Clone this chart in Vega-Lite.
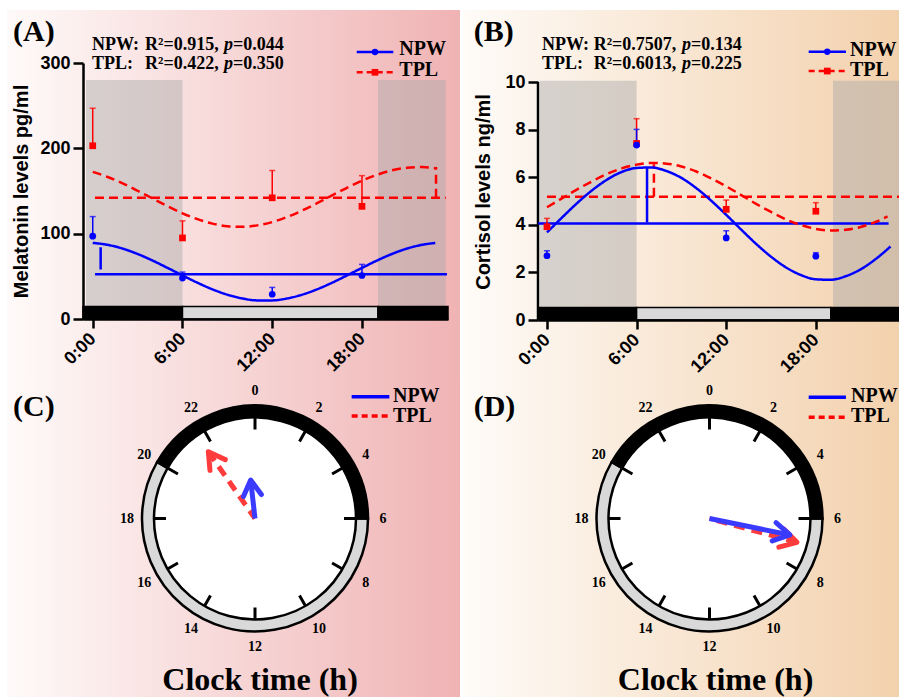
{
"$schema": "https://vega.github.io/schema/vega-lite/v6.json",
"background": "white",
"padding": {"left": 7, "top": 10, "right": 0, "bottom": 0},
"spacing": 1,
"config": {
  "view": {"stroke": null},
  "axis": {"grid": false, "domainColor": "black", "domainWidth": 2.5, "tickColor": "black", "tickWidth": 2.5, "tickSize": 10,
           "labelFont": "Liberation Sans", "labelFontWeight": "bold", "labelFontSize": 18, "labelColor": "black",
           "titleFont": "Liberation Sans", "titleFontWeight": "bold", "titleFontSize": 20, "titleColor": "black"}
},
"datasets": {
  "mel": [
    {"s":"TPL","h":0,"m":203,"u":247},{"s":"TPL","h":6,"m":95,"u":115},{"s":"TPL","h":12,"m":142,"u":174},{"s":"TPL","h":18,"m":132,"u":168},
    {"s":"NPW","h":0,"m":97,"u":120},{"s":"NPW","h":6,"m":48,"u":55},{"s":"NPW","h":12,"m":29,"u":37},{"s":"NPW","h":18,"m":51,"u":64}],
  "cor": [
    {"s":"TPL","h":0,"m":3.92,"u":4.27},{"s":"TPL","h":6,"m":7.42,"u":8.46},{"s":"TPL","h":12,"m":4.65,"u":5.04},{"s":"TPL","h":18,"m":4.57,"u":4.93},
    {"s":"NPW","h":0,"m":2.7,"u":2.91},{"s":"NPW","h":6,"m":7.35,"u":8.01},{"s":"NPW","h":12,"m":3.45,"u":3.75},{"s":"NPW","h":18,"m":2.68,"u":2.83}],
  "mfit": [
    {"s":"TPL","h":0,"v":172.4},{"s":"TPL","h":1,"v":166.4},{"s":"TPL","h":2,"v":158.9},{"s":"TPL","h":3,"v":150.3},{"s":"TPL","h":4,"v":141.2},{"s":"TPL","h":5,"v":132.2},
    {"s":"TPL","h":6,"v":123.9},{"s":"TPL","h":7,"v":117.0},{"s":"TPL","h":8,"v":111.8},{"s":"TPL","h":9,"v":108.8},{"s":"TPL","h":10,"v":108.0},{"s":"TPL","h":11,"v":109.7},
    {"s":"TPL","h":12,"v":113.6},{"s":"TPL","h":13,"v":119.6},{"s":"TPL","h":14,"v":127.1},{"s":"TPL","h":15,"v":135.7},{"s":"TPL","h":16,"v":144.8},{"s":"TPL","h":17,"v":153.8},
    {"s":"TPL","h":18,"v":162.1},{"s":"TPL","h":19,"v":169.0},{"s":"TPL","h":20,"v":174.2},{"s":"TPL","h":21,"v":177.2},{"s":"TPL","h":22,"v":178.0},{"s":"TPL","h":22.9,"v":176.6},
    {"s":"NPW","h":0,"v":89.2},{"s":"NPW","h":1,"v":86.9},{"s":"NPW","h":2,"v":82.5},{"s":"NPW","h":3,"v":76.2},{"s":"NPW","h":4,"v":68.5},{"s":"NPW","h":5,"v":59.9},
    {"s":"NPW","h":6,"v":51.1},{"s":"NPW","h":7,"v":42.5},{"s":"NPW","h":8,"v":34.8},{"s":"NPW","h":9,"v":28.5},{"s":"NPW","h":10,"v":24.1},{"s":"NPW","h":11,"v":21.8},
    {"s":"NPW","h":12,"v":21.8},{"s":"NPW","h":13,"v":24.1},{"s":"NPW","h":14,"v":28.5},{"s":"NPW","h":15,"v":34.8},{"s":"NPW","h":16,"v":42.5},{"s":"NPW","h":17,"v":51.1},
    {"s":"NPW","h":18,"v":59.9},{"s":"NPW","h":19,"v":68.5},{"s":"NPW","h":20,"v":76.2},{"s":"NPW","h":21,"v":82.5},{"s":"NPW","h":22,"v":86.9},{"s":"NPW","h":22.9,"v":89.1}],
  "cfit": [
    {"s":"TPL","h":0,"v":4.74},{"s":"TPL","h":1,"v":5.11},{"s":"TPL","h":2,"v":5.48},{"s":"TPL","h":3,"v":5.82},{"s":"TPL","h":4,"v":6.13},{"s":"TPL","h":5,"v":6.37},
    {"s":"TPL","h":6,"v":6.53},{"s":"TPL","h":7,"v":6.6},{"s":"TPL","h":8,"v":6.57},{"s":"TPL","h":9,"v":6.45},{"s":"TPL","h":10,"v":6.24},{"s":"TPL","h":11,"v":5.95},
    {"s":"TPL","h":12,"v":5.62},{"s":"TPL","h":13,"v":5.25},{"s":"TPL","h":14,"v":4.88},{"s":"TPL","h":15,"v":4.54},{"s":"TPL","h":16,"v":4.23},{"s":"TPL","h":17,"v":3.99},
    {"s":"TPL","h":18,"v":3.83},{"s":"TPL","h":19,"v":3.76},{"s":"TPL","h":20,"v":3.79},{"s":"TPL","h":21,"v":3.91},{"s":"TPL","h":22,"v":4.12},{"s":"TPL","h":22.8,"v":4.35},
    {"s":"NPW","h":0,"v":3.68},{"s":"NPW","h":1,"v":4.3},{"s":"NPW","h":2,"v":4.9},{"s":"NPW","h":3,"v":5.44},{"s":"NPW","h":4,"v":5.89},{"s":"NPW","h":5,"v":6.22},
    {"s":"NPW","h":6,"v":6.39},{"s":"NPW","h":7,"v":6.41},{"s":"NPW","h":8,"v":6.26},{"s":"NPW","h":9,"v":5.97},{"s":"NPW","h":10,"v":5.54},{"s":"NPW","h":11,"v":5.01},
    {"s":"NPW","h":12,"v":4.42},{"s":"NPW","h":13,"v":3.8},{"s":"NPW","h":14,"v":3.2},{"s":"NPW","h":15,"v":2.66},{"s":"NPW","h":16,"v":2.21},{"s":"NPW","h":17,"v":1.89},
    {"s":"NPW","h":18,"v":1.71},{"s":"NPW","h":19,"v":1.69},{"s":"NPW","h":20,"v":1.84},{"s":"NPW","h":21,"v":2.13},{"s":"NPW","h":22,"v":2.56},{"s":"NPW","h":23,"v":3.09}],
  "mref": [
    {"s":"TPL","x0":0.15,"x1":23.6,"y0":142,"y1":142},{"s":"TPL","x0":22.95,"x1":22.95,"y0":142,"y1":178},
    {"s":"NPW","x0":0.15,"x1":23.68,"y0":52.5,"y1":52.5},{"s":"NPW","x0":0.53,"x1":0.53,"y0":58,"y1":84}],
  "cref": [
    {"s":"TPL","x0":0,"x1":23.7,"y0":5.18,"y1":5.18},{"s":"TPL","x0":7.16,"x1":7.16,"y0":5.18,"y1":6.55},
    {"s":"NPW","x0":-0.6,"x1":22.87,"y0":4.06,"y1":4.06},{"s":"NPW","x0":6.7,"x1":6.7,"y0":4.1,"y1":6.4}],
  "hours": [{"h":0},{"h":2},{"h":4},{"h":6},{"h":8},{"h":10},{"h":12},{"h":14},{"h":16},{"h":18},{"h":20},{"h":22}],
  "face": [{"t0":0,"t1":24}],
  "ring": [{"t0":6,"t1":20,"c":"day"},{"t0":20,"t1":30,"c":"night"}],
  "arrows": [
    {"p":"C","s":"NPW","x":-0.043,"y":0.381,"ang":353.6},
    {"p":"C","s":"TPL","x":-0.462,"y":0.661,"ang":325},
    {"p":"D","s":"NPW","x":0.797,"y":-0.163,"ang":101.6},
    {"p":"D","s":"TPL","x":0.866,"y":-0.236,"ang":105.2}]
},
"hconcat": [
 {"spacing": 0, "vconcat": [
  {"width": 365, "height": 256, "layer": [
    {"data":{"values":[{}]},"mark":{"type":"rect","clip":false,"fill":{"gradient":"linear","x1":0,"y1":0,"x2":1,"y2":0,"stops":[{"offset":0,"color":"#fefaf9"},{"offset":1,"color":"#f0b3b4"}]}},
     "encoding":{"x":{"datum":-5.73,"type":"quantitative","scale":{"domain":[-0.65,23.75],"nice":false,"zero":false},
                      "axis":{"zindex":2,"values":[0,6,12,18],"labelExpr":"datum.value + ':00'","labelAngle":-45,"labelAlign":"right","labelBaseline":"middle","labelPadding":8,"tickSize":9,"title":null}},"x2":{"datum":24.55},
                 "y":{"datum":362.1,"type":"quantitative","scale":{"domain":[0,300],"nice":false,"zero":false},
                      "axis":{"zindex":2,"values":[0,100,200,300],"title":"Melatonin levels pg/ml","titlePadding":8,"labelPadding":3}},"y2":{"datum":-69.1}}},
    {"data":{"values":[{"a":-0.45,"b":6},{"a":19.07,"b":23.6}]},"mark":{"type":"rect","fill":"#a9a9a9","opacity":0.45},
     "encoding":{"x":{"field":"a","type":"quantitative","scale":{"domain":[-0.65,23.75],"nice":false,"zero":false}},"x2":{"field":"b"},
                 "y":{"datum":14.6,"type":"quantitative","scale":{"domain":[0,300],"nice":false,"zero":false}},"y2":{"datum":280}}},
    {"data":{"values":[{"a":-0.65,"b":6,"c":"night"},{"a":6,"b":19.07,"c":"day"},{"a":19.07,"b":23.75,"c":"night"}]},"mark":{"type":"rect","stroke":"black","strokeWidth":1.5},
     "encoding":{"x":{"field":"a","type":"quantitative","scale":{"domain":[-0.65,23.75],"nice":false,"zero":false}},"x2":{"field":"b"},
                 "y":{"datum":0,"type":"quantitative","scale":{"domain":[0,300],"nice":false,"zero":false}},"y2":{"datum":14.6},
                 "fill":{"field":"c","type":"nominal","scale":{"domain":["night","day"],"range":["black","#d9d9d9"]},"legend":null}}},
    {"data":{"name":"mref"},"mark":{"type":"rule","strokeWidth":2.5},
     "encoding":{"x":{"field":"x0","type":"quantitative","scale":{"domain":[-0.65,23.75],"nice":false,"zero":false}},"x2":{"field":"x1"},
                 "y":{"field":"y0","type":"quantitative","scale":{"domain":[0,300],"nice":false,"zero":false}},"y2":{"field":"y1"},
                 "color":{"field":"s","type":"nominal","scale":{"domain":["NPW","TPL"],"range":["#0000ff","#ff0000"]},"legend":null},
                 "strokeDash":{"field":"s","type":"nominal","scale":{"domain":["NPW","TPL"],"range":[[1,0],[9,5]]},"legend":null}}},
    {"data":{"name":"mfit"},"mark":{"type":"line","strokeWidth":2.5,"interpolate":"monotone"},
     "encoding":{"x":{"field":"h","type":"quantitative","scale":{"domain":[-0.65,23.75],"nice":false,"zero":false}},
                 "y":{"field":"v","type":"quantitative","scale":{"domain":[0,300],"nice":false,"zero":false}},
                 "color":{"field":"s","type":"nominal","scale":{"domain":["NPW","TPL"],"range":["#0000ff","#ff0000"]},"legend":null},
                 "strokeDash":{"field":"s","type":"nominal","scale":{"domain":["NPW","TPL"],"range":[[1,0],[9,5]]},"legend":null}}},
    {"data":{"name":"mel"},"mark":{"type":"rule","strokeWidth":1.5},
     "encoding":{"x":{"field":"h","type":"quantitative","scale":{"domain":[-0.65,23.75],"nice":false,"zero":false}},
                 "y":{"field":"m","type":"quantitative","scale":{"domain":[0,300],"nice":false,"zero":false}},"y2":{"field":"u"},
                 "color":{"field":"s","type":"nominal","scale":{"domain":["NPW","TPL"],"range":["#0000ff","#ff0000"]},"legend":null}}},
    {"data":{"name":"mel"},"mark":{"type":"tick","orient":"horizontal","size":6,"thickness":1.5},
     "encoding":{"x":{"field":"h","type":"quantitative","scale":{"domain":[-0.65,23.75],"nice":false,"zero":false}},
                 "y":{"field":"u","type":"quantitative","scale":{"domain":[0,300],"nice":false,"zero":false}},
                 "color":{"field":"s","type":"nominal","scale":{"domain":["NPW","TPL"],"range":["#0000ff","#ff0000"]},"legend":null}}},
    {"data":{"name":"mel"},"mark":{"type":"point","filled":true,"size":45,"opacity":1},
     "encoding":{"x":{"field":"h","type":"quantitative","scale":{"domain":[-0.65,23.75],"nice":false,"zero":false}},
                 "y":{"field":"m","type":"quantitative","scale":{"domain":[0,300],"nice":false,"zero":false}},
                 "color":{"field":"s","type":"nominal","scale":{"domain":["NPW","TPL"],"range":["#0000ff","#ff0000"]},"legend":null},
                 "shape":{"field":"s","type":"nominal","scale":{"domain":["NPW","TPL"],"range":["circle","square"]},"legend":null}}},
    {"data":{"values":[{}]},"mark":{"type":"text","align":"left","baseline":"alphabetic","font":"Liberation Serif","fontWeight":"bold","fontSize":18,"lineHeight":18.5,"text":["NPW:","TPL:"]},
     "encoding":{"x":{"datum":-0.048,"type":"quantitative","scale":{"domain":[-0.65,23.75],"nice":false,"zero":false}},
                 "y":{"datum":315.2,"type":"quantitative","scale":{"domain":[0,300],"nice":false,"zero":false}}}},
    {"data":{"values":[{}]},"mark":{"type":"text","align":"left","baseline":"alphabetic","font":"Liberation Serif","fontWeight":"bold","fontSize":18,"lineHeight":18.5,"text":["R²=0.915,","R²=0.422,"]},
     "encoding":{"x":{"datum":3.495,"type":"quantitative","scale":{"domain":[-0.65,23.75],"nice":false,"zero":false}},
                 "y":{"datum":315.2,"type":"quantitative","scale":{"domain":[0,300],"nice":false,"zero":false}}}},
    {"data":{"values":[{}]},"mark":{"type":"text","align":"right","baseline":"alphabetic","font":"Liberation Serif","fontWeight":"bold","fontStyle":"italic","fontSize":18,"lineHeight":18.5,"text":["p","p"]},
     "encoding":{"x":{"datum":9.377,"type":"quantitative","scale":{"domain":[-0.65,23.75],"nice":false,"zero":false}},
                 "y":{"datum":315.2,"type":"quantitative","scale":{"domain":[0,300],"nice":false,"zero":false}}}},
    {"data":{"values":[{}]},"mark":{"type":"text","align":"left","baseline":"alphabetic","font":"Liberation Serif","fontWeight":"bold","fontSize":18,"lineHeight":18.5,"text":["=0.044","=0.350"]},
     "encoding":{"x":{"datum":9.377,"type":"quantitative","scale":{"domain":[-0.65,23.75],"nice":false,"zero":false}},
                 "y":{"datum":315.2,"type":"quantitative","scale":{"domain":[0,300],"nice":false,"zero":false}}}},
    {"data":{"values":[{}]},"mark":{"type":"text","align":"left","baseline":"alphabetic","font":"Liberation Serif","fontWeight":"bold","fontSize":30,"text":"(A)"},
     "encoding":{"x":{"datum":-5.33,"type":"quantitative","scale":{"domain":[-0.65,23.75],"nice":false,"zero":false}},
                 "y":{"datum":325.8,"type":"quantitative","scale":{"domain":[0,300],"nice":false,"zero":false}}}},
    {"data":{"values":[{}]},"mark":{"type":"text","align":"left","baseline":"alphabetic","font":"Liberation Serif","fontWeight":"bold","fontSize":20,"lineHeight":20.5,"text":["NPW","TPL"]},
     "encoding":{"x":{"datum":20.494,"type":"quantitative","scale":{"domain":[-0.65,23.75],"nice":false,"zero":false}},
                 "y":{"datum":308.8,"type":"quantitative","scale":{"domain":[0,300],"nice":false,"zero":false}}}},
    {"data":{"values":[{}]},"mark":{"type":"rule","color":"#0000ff","strokeWidth":2.5},
     "encoding":{"x":{"datum":17.647,"type":"quantitative","scale":{"domain":[-0.65,23.75],"nice":false,"zero":false}},"x2":{"datum":20.094},
                 "y":{"datum":312.9,"type":"quantitative","scale":{"domain":[0,300],"nice":false,"zero":false}}}},
    {"data":{"values":[{}]},"mark":{"type":"rule","color":"#ff0000","strokeWidth":2.5,"strokeDash":[6,4]},
     "encoding":{"x":{"datum":17.647,"type":"quantitative","scale":{"domain":[-0.65,23.75],"nice":false,"zero":false}},"x2":{"datum":20.094},
                 "y":{"datum":289.1,"type":"quantitative","scale":{"domain":[0,300],"nice":false,"zero":false}}}},
    {"data":{"values":[{}]},"mark":{"type":"point","shape":"circle","filled":true,"color":"#0000ff","size":40,"opacity":1},
     "encoding":{"x":{"datum":18.87,"type":"quantitative","scale":{"domain":[-0.65,23.75],"nice":false,"zero":false}},
                 "y":{"datum":312.9,"type":"quantitative","scale":{"domain":[0,300],"nice":false,"zero":false}}}},
    {"data":{"values":[{}]},"mark":{"type":"point","shape":"square","filled":true,"color":"#ff0000","size":45,"opacity":1},
     "encoding":{"x":{"datum":18.87,"type":"quantitative","scale":{"domain":[-0.65,23.75],"nice":false,"zero":false}},
                 "y":{"datum":289.1,"type":"quantitative","scale":{"domain":[0,300],"nice":false,"zero":false}}}}
  ]},
  {"width": 344, "height": 281, "layer": [
    {"data":{"values":[{}]},"mark":{"type":"rect","clip":false,"fill":{"gradient":"linear","x1":0,"y1":0,"x2":1,"y2":0,"stops":[{"offset":0,"color":"#fefaf9"},{"offset":1,"color":"#f0b3b4"}]}},
     "encoding":{"x":{"datum":-2.455,"type":"quantitative","scale":{"domain":[-1.703,1.703],"nice":false,"zero":false},"axis":null},"x2":{"datum":2.03},
                 "y":{"datum":1.391,"type":"quantitative","scale":{"domain":[-1.391,1.391],"nice":false,"zero":false},"axis":null},"y2":{"datum":-1.767}}},
    {"data":{"name":"face"},"mark":{"type":"arc","fill":"white","radius":101,"radius2":0},
     "encoding":{"theta":{"field":"t0","type":"quantitative","scale":{"domain":[0,24],"range":[0,6.283185307]},"stack":null},"theta2":{"field":"t1"}}},
    {"data":{"name":"ring"},"mark":{"type":"arc","stroke":"black","strokeWidth":2.5,"radius":113,"radius2":101},
     "encoding":{"theta":{"field":"t0","type":"quantitative","scale":{"domain":[0,24],"range":[0,6.283185307]},"stack":null},"theta2":{"field":"t1"},
                 "fill":{"field":"c","type":"nominal","scale":{"domain":["night","day"],"range":["black","#d9d9d9"]},"legend":null}}},
    {"data":{"name":"hours"},"mark":{"type":"arc","fill":"transparent","stroke":"black","strokeWidth":3,"radius":101,"radius2":89},
     "encoding":{"theta":{"field":"h","type":"quantitative","scale":{"domain":[0,24],"range":[0,6.283185307]},"stack":null},"theta2":{"field":"h"}}},
    {"data":{"name":"hours"},"mark":{"type":"text","align":"center","baseline":"middle","font":"Liberation Serif","fontWeight":"bold","fontSize":14,"radius":128},
     "encoding":{"theta":{"field":"h","type":"quantitative","scale":{"domain":[0,24],"range":[0,6.283185307]},"stack":null},
                 "text":{"field":"h","type":"nominal"}}},
    {"data":{"name":"arrows"},"transform":[{"filter":"datum.p == 'C' && datum.s == 'TPL'"}],"mark":{"type":"rule","color":"#ff3b3b","strokeWidth":5,"strokeDash":[11,7]},
     "encoding":{"x":{"field":"x","type":"quantitative","scale":{"domain":[-1.703,1.703],"nice":false,"zero":false},"axis":null},"x2":{"datum":0},
                 "y":{"field":"y","type":"quantitative","scale":{"domain":[-1.391,1.391],"nice":false,"zero":false},"axis":null},"y2":{"datum":0}}},
    {"data":{"name":"arrows"},"transform":[{"filter":"datum.p == 'C' && datum.s == 'TPL'"}],"mark":{"type":"point","shape":"M-0.5,0.866L0,0L0.5,0.866","filled":false,"color":"#ff3b3b","strokeWidth":5,"strokeCap":"round","strokeJoin":"round","size":1400,"opacity":1},
     "encoding":{"x":{"field":"x","type":"quantitative","scale":{"domain":[-1.703,1.703],"nice":false,"zero":false},"axis":null},
                 "y":{"field":"y","type":"quantitative","scale":{"domain":[-1.391,1.391],"nice":false,"zero":false},"axis":null},
                 "angle":{"field":"ang","type":"quantitative","scale":null}}},
    {"data":{"name":"arrows"},"transform":[{"filter":"datum.p == 'C' && datum.s == 'NPW'"}],"mark":{"type":"rule","color":"#3b3bff","strokeWidth":5},
     "encoding":{"x":{"field":"x","type":"quantitative","scale":{"domain":[-1.703,1.703],"nice":false,"zero":false},"axis":null},"x2":{"datum":0},
                 "y":{"field":"y","type":"quantitative","scale":{"domain":[-1.391,1.391],"nice":false,"zero":false},"axis":null},"y2":{"datum":0}}},
    {"data":{"name":"arrows"},"transform":[{"filter":"datum.p == 'C' && datum.s == 'NPW'"}],"mark":{"type":"point","shape":"M-0.5,0.866L0,0L0.5,0.866","filled":false,"color":"#3b3bff","strokeWidth":5,"strokeCap":"round","strokeJoin":"round","size":1300,"opacity":1},
     "encoding":{"x":{"field":"x","type":"quantitative","scale":{"domain":[-1.703,1.703],"nice":false,"zero":false},"axis":null},
                 "y":{"field":"y","type":"quantitative","scale":{"domain":[-1.391,1.391],"nice":false,"zero":false},"axis":null},
                 "angle":{"field":"ang","type":"quantitative","scale":null}}},
    {"data":{"values":[{}]},"mark":{"type":"rule","color":"#0000ff","strokeWidth":3.5},
     "encoding":{"x":{"datum":0.957,"type":"quantitative","scale":{"domain":[-1.703,1.703],"nice":false,"zero":false},"axis":null},"x2":{"datum":1.33},
                 "y":{"datum":1.206,"type":"quantitative","scale":{"domain":[-1.391,1.391],"nice":false,"zero":false},"axis":null}}},
    {"data":{"values":[{}]},"mark":{"type":"rule","color":"#ff0000","strokeWidth":3.5,"strokeDash":[6,4]},
     "encoding":{"x":{"datum":0.957,"type":"quantitative","scale":{"domain":[-1.703,1.703],"nice":false,"zero":false},"axis":null},"x2":{"datum":1.33},
                 "y":{"datum":1.015,"type":"quantitative","scale":{"domain":[-1.391,1.391],"nice":false,"zero":false},"axis":null}}},
    {"data":{"values":[{}]},"mark":{"type":"text","align":"left","baseline":"alphabetic","font":"Liberation Serif","fontWeight":"bold","fontSize":20,"lineHeight":20.5,"text":["NPW","TPL"]},
     "encoding":{"x":{"datum":1.366,"type":"quantitative","scale":{"domain":[-1.703,1.703],"nice":false,"zero":false},"axis":null},
                 "y":{"datum":1.156,"type":"quantitative","scale":{"domain":[-1.391,1.391],"nice":false,"zero":false},"axis":null}}},
    {"data":{"values":[{}]},"mark":{"type":"text","align":"left","baseline":"alphabetic","font":"Liberation Serif","fontWeight":"bold","fontSize":30,"text":"(C)"},
     "encoding":{"x":{"datum":-2.396,"type":"quantitative","scale":{"domain":[-1.703,1.703],"nice":false,"zero":false},"axis":null},
                 "y":{"datum":1.01,"type":"quantitative","scale":{"domain":[-1.391,1.391],"nice":false,"zero":false},"axis":null}}},
    {"data":{"values":[{}]},"mark":{"type":"text","align":"center","baseline":"alphabetic","font":"Liberation Serif","fontWeight":"bold","fontSize":32,"text":"Clock time (h)"},
     "encoding":{"x":{"datum":0.05,"type":"quantitative","scale":{"domain":[-1.703,1.703],"nice":false,"zero":false},"axis":null},
                 "y":{"datum":-1.698,"type":"quantitative","scale":{"domain":[-1.391,1.391],"nice":false,"zero":false},"axis":null}}}
  ]}
 ]},
 {"spacing": 0, "vconcat": [
  {"width": 363, "height": 257, "layer": [
    {"data":{"values":[{}]},"mark":{"type":"rect","clip":false,"fill":{"gradient":"linear","x1":0,"y1":0,"x2":1,"y2":0,"stops":[{"offset":0,"color":"#fefbf8"},{"offset":1,"color":"#f3d1ad"}]}},
     "encoding":{"x":{"datum":-5.62,"type":"quantitative","scale":{"domain":[-0.6,23.7],"nice":false,"zero":false},
                      "axis":{"zindex":2,"values":[0,6,12,18],"labelExpr":"datum.value + ':00'","labelAngle":-45,"labelAlign":"right","labelBaseline":"middle","labelPadding":8,"tickSize":9,"title":null}},"x2":{"datum":23.7},
                 "y":{"datum":13.025,"type":"quantitative","scale":{"domain":[0,10.8],"nice":false,"zero":false},
                      "axis":{"zindex":2,"values":[0,2,4,6,8,10],"domain":false,"title":"Cortisol levels ng/ml","titlePadding":11,"labelPadding":3}},"y2":{"datum":-2.437}}},
    {"data":{"values":[{"a":-0.47,"b":6},{"a":19.15,"b":23.7}]},"mark":{"type":"rect","fill":"#a9a9a9","opacity":0.45},
     "encoding":{"x":{"field":"a","type":"quantitative","scale":{"domain":[-0.6,23.7],"nice":false,"zero":false}},"x2":{"field":"b"},
                 "y":{"datum":0.53,"type":"quantitative","scale":{"domain":[0,10.8],"nice":false,"zero":false}},"y2":{"datum":10.05}}},
    {"data":{"values":[{"a":-0.6,"b":6,"c":"night"},{"a":6,"b":19.0,"c":"day"},{"a":19.0,"b":23.7,"c":"night"}]},"mark":{"type":"rect","stroke":"black","strokeWidth":1.5},
     "encoding":{"x":{"field":"a","type":"quantitative","scale":{"domain":[-0.6,23.7],"nice":false,"zero":false}},"x2":{"field":"b"},
                 "y":{"datum":0,"type":"quantitative","scale":{"domain":[0,10.8],"nice":false,"zero":false}},"y2":{"datum":0.53},
                 "fill":{"field":"c","type":"nominal","scale":{"domain":["night","day"],"range":["black","#d9d9d9"]},"legend":null}}},
    {"data":{"values":[{}]},"mark":{"type":"rule","color":"black","strokeWidth":2.5},
     "encoding":{"x":{"datum":-0.6,"type":"quantitative","scale":{"domain":[-0.6,23.7],"nice":false,"zero":false}},
                 "y":{"datum":0,"type":"quantitative","scale":{"domain":[0,10.8],"nice":false,"zero":false}},"y2":{"datum":10}}},
    {"data":{"name":"cref"},"mark":{"type":"rule","strokeWidth":2.5},
     "encoding":{"x":{"field":"x0","type":"quantitative","scale":{"domain":[-0.6,23.7],"nice":false,"zero":false}},"x2":{"field":"x1"},
                 "y":{"field":"y0","type":"quantitative","scale":{"domain":[0,10.8],"nice":false,"zero":false}},"y2":{"field":"y1"},
                 "color":{"field":"s","type":"nominal","scale":{"domain":["NPW","TPL"],"range":["#0000ff","#ff0000"]},"legend":null},
                 "strokeDash":{"field":"s","type":"nominal","scale":{"domain":["NPW","TPL"],"range":[[1,0],[9,5]]},"legend":null}}},
    {"data":{"name":"cfit"},"mark":{"type":"line","strokeWidth":2.5,"interpolate":"monotone"},
     "encoding":{"x":{"field":"h","type":"quantitative","scale":{"domain":[-0.6,23.7],"nice":false,"zero":false}},
                 "y":{"field":"v","type":"quantitative","scale":{"domain":[0,10.8],"nice":false,"zero":false}},
                 "color":{"field":"s","type":"nominal","scale":{"domain":["NPW","TPL"],"range":["#0000ff","#ff0000"]},"legend":null},
                 "strokeDash":{"field":"s","type":"nominal","scale":{"domain":["NPW","TPL"],"range":[[1,0],[9,5]]},"legend":null}}},
    {"data":{"name":"cor"},"mark":{"type":"rule","strokeWidth":1.5},
     "encoding":{"x":{"field":"h","type":"quantitative","scale":{"domain":[-0.6,23.7],"nice":false,"zero":false}},
                 "y":{"field":"m","type":"quantitative","scale":{"domain":[0,10.8],"nice":false,"zero":false}},"y2":{"field":"u"},
                 "color":{"field":"s","type":"nominal","scale":{"domain":["NPW","TPL"],"range":["#0000ff","#ff0000"]},"legend":null}}},
    {"data":{"name":"cor"},"mark":{"type":"tick","orient":"horizontal","size":6,"thickness":1.5},
     "encoding":{"x":{"field":"h","type":"quantitative","scale":{"domain":[-0.6,23.7],"nice":false,"zero":false}},
                 "y":{"field":"u","type":"quantitative","scale":{"domain":[0,10.8],"nice":false,"zero":false}},
                 "color":{"field":"s","type":"nominal","scale":{"domain":["NPW","TPL"],"range":["#0000ff","#ff0000"]},"legend":null}}},
    {"data":{"name":"cor"},"mark":{"type":"point","filled":true,"size":45,"opacity":1},
     "encoding":{"x":{"field":"h","type":"quantitative","scale":{"domain":[-0.6,23.7],"nice":false,"zero":false}},
                 "y":{"field":"m","type":"quantitative","scale":{"domain":[0,10.8],"nice":false,"zero":false}},
                 "color":{"field":"s","type":"nominal","scale":{"domain":["NPW","TPL"],"range":["#0000ff","#ff0000"]},"legend":null},
                 "shape":{"field":"s","type":"nominal","scale":{"domain":["NPW","TPL"],"range":["circle","square"]},"legend":null}}},
    {"data":{"values":[{}]},"mark":{"type":"text","align":"left","baseline":"alphabetic","font":"Liberation Serif","fontWeight":"bold","fontSize":18,"lineHeight":18.5,"text":["NPW:","TPL:"]},
     "encoding":{"x":{"datum":-0.332,"type":"quantitative","scale":{"domain":[-0.6,23.7],"nice":false,"zero":false}},
                 "y":{"datum":11.345,"type":"quantitative","scale":{"domain":[0,10.8],"nice":false,"zero":false}}}},
    {"data":{"values":[{}]},"mark":{"type":"text","align":"left","baseline":"alphabetic","font":"Liberation Serif","fontWeight":"bold","fontSize":18,"lineHeight":18.5,"text":["R²=0.7507,","R²=0.6013,"]},
     "encoding":{"x":{"datum":3.128,"type":"quantitative","scale":{"domain":[-0.6,23.7],"nice":false,"zero":false}},
                 "y":{"datum":11.345,"type":"quantitative","scale":{"domain":[0,10.8],"nice":false,"zero":false}}}},
    {"data":{"values":[{}]},"mark":{"type":"text","align":"right","baseline":"alphabetic","font":"Liberation Serif","fontWeight":"bold","fontStyle":"italic","fontSize":18,"lineHeight":18.5,"text":["p","p"]},
     "encoding":{"x":{"datum":9.641,"type":"quantitative","scale":{"domain":[-0.6,23.7],"nice":false,"zero":false}},
                 "y":{"datum":11.345,"type":"quantitative","scale":{"domain":[0,10.8],"nice":false,"zero":false}}}},
    {"data":{"values":[{}]},"mark":{"type":"text","align":"left","baseline":"alphabetic","font":"Liberation Serif","fontWeight":"bold","fontSize":18,"lineHeight":18.5,"text":["=0.134","=0.225"]},
     "encoding":{"x":{"datum":9.641,"type":"quantitative","scale":{"domain":[-0.6,23.7],"nice":false,"zero":false}},
                 "y":{"datum":11.345,"type":"quantitative","scale":{"domain":[0,10.8],"nice":false,"zero":false}}}},
    {"data":{"values":[{}]},"mark":{"type":"text","align":"left","baseline":"alphabetic","font":"Liberation Serif","fontWeight":"bold","fontSize":30,"text":"(B)"},
     "encoding":{"x":{"datum":-4.904,"type":"quantitative","scale":{"domain":[-0.6,23.7],"nice":false,"zero":false}},
                 "y":{"datum":11.723,"type":"quantitative","scale":{"domain":[0,10.8],"nice":false,"zero":false}}}},
    {"data":{"values":[{}]},"mark":{"type":"text","align":"left","baseline":"alphabetic","font":"Liberation Serif","fontWeight":"bold","fontSize":20,"lineHeight":20.5,"text":["NPW","TPL"]},
     "encoding":{"x":{"datum":20.283,"type":"quantitative","scale":{"domain":[-0.6,23.7],"nice":false,"zero":false}},
                 "y":{"datum":11.113,"type":"quantitative","scale":{"domain":[0,10.8],"nice":false,"zero":false}}}},
    {"data":{"values":[{}]},"mark":{"type":"rule","color":"#0000ff","strokeWidth":2.5},
     "encoding":{"x":{"datum":17.519,"type":"quantitative","scale":{"domain":[-0.6,23.7],"nice":false,"zero":false}},"x2":{"datum":20.016},
                 "y":{"datum":11.273,"type":"quantitative","scale":{"domain":[0,10.8],"nice":false,"zero":false}}}},
    {"data":{"values":[{}]},"mark":{"type":"rule","color":"#ff0000","strokeWidth":2.5,"strokeDash":[6,4]},
     "encoding":{"x":{"datum":17.519,"type":"quantitative","scale":{"domain":[-0.6,23.7],"nice":false,"zero":false}},"x2":{"datum":20.016},
                 "y":{"datum":10.462,"type":"quantitative","scale":{"domain":[0,10.8],"nice":false,"zero":false}}}},
    {"data":{"values":[{}]},"mark":{"type":"point","shape":"circle","filled":true,"color":"#0000ff","size":40,"opacity":1},
     "encoding":{"x":{"datum":18.764,"type":"quantitative","scale":{"domain":[-0.6,23.7],"nice":false,"zero":false}},
                 "y":{"datum":11.273,"type":"quantitative","scale":{"domain":[0,10.8],"nice":false,"zero":false}}}},
    {"data":{"values":[{}]},"mark":{"type":"point","shape":"square","filled":true,"color":"#ff0000","size":45,"opacity":1},
     "encoding":{"x":{"datum":18.764,"type":"quantitative","scale":{"domain":[-0.6,23.7],"nice":false,"zero":false}},
                 "y":{"datum":10.462,"type":"quantitative","scale":{"domain":[0,10.8],"nice":false,"zero":false}}}}
  ]},
  {"width": 343, "height": 281, "layer": [
    {"data":{"values":[{}]},"mark":{"type":"rect","clip":false,"fill":{"gradient":"linear","x1":0,"y1":0,"x2":1,"y2":0,"stops":[{"offset":0,"color":"#fefbf8"},{"offset":1,"color":"#f3d1ad"}]}},
     "encoding":{"x":{"datum":-2.441,"type":"quantitative","scale":{"domain":[-1.698,1.698],"nice":false,"zero":false},"axis":null},"x2":{"datum":1.896},
                 "y":{"datum":1.391,"type":"quantitative","scale":{"domain":[-1.391,1.391],"nice":false,"zero":false},"axis":null},"y2":{"datum":-1.767}}},
    {"data":{"name":"face"},"mark":{"type":"arc","fill":"white","radius":101,"radius2":0},
     "encoding":{"theta":{"field":"t0","type":"quantitative","scale":{"domain":[0,24],"range":[0,6.283185307]},"stack":null},"theta2":{"field":"t1"}}},
    {"data":{"name":"ring"},"mark":{"type":"arc","stroke":"black","strokeWidth":2.5,"radius":113,"radius2":101},
     "encoding":{"theta":{"field":"t0","type":"quantitative","scale":{"domain":[0,24],"range":[0,6.283185307]},"stack":null},"theta2":{"field":"t1"},
                 "fill":{"field":"c","type":"nominal","scale":{"domain":["night","day"],"range":["black","#d9d9d9"]},"legend":null}}},
    {"data":{"name":"hours"},"mark":{"type":"arc","fill":"transparent","stroke":"black","strokeWidth":3,"radius":101,"radius2":89},
     "encoding":{"theta":{"field":"h","type":"quantitative","scale":{"domain":[0,24],"range":[0,6.283185307]},"stack":null},"theta2":{"field":"h"}}},
    {"data":{"name":"hours"},"mark":{"type":"text","align":"center","baseline":"middle","font":"Liberation Serif","fontWeight":"bold","fontSize":14,"radius":128},
     "encoding":{"theta":{"field":"h","type":"quantitative","scale":{"domain":[0,24],"range":[0,6.283185307]},"stack":null},
                 "text":{"field":"h","type":"nominal"}}},
    {"data":{"name":"arrows"},"transform":[{"filter":"datum.p == 'D' && datum.s == 'TPL'"}],"mark":{"type":"rule","color":"#ff3b3b","strokeWidth":5,"strokeDash":[11,7]},
     "encoding":{"x":{"field":"x","type":"quantitative","scale":{"domain":[-1.698,1.698],"nice":false,"zero":false},"axis":null},"x2":{"datum":0},
                 "y":{"field":"y","type":"quantitative","scale":{"domain":[-1.391,1.391],"nice":false,"zero":false},"axis":null},"y2":{"datum":0}}},
    {"data":{"name":"arrows"},"transform":[{"filter":"datum.p == 'D' && datum.s == 'TPL'"}],"mark":{"type":"point","shape":"M-0.5,0.866L0,0L0.5,0.866","filled":false,"color":"#ff3b3b","strokeWidth":5,"strokeCap":"round","strokeJoin":"round","size":1400,"opacity":1},
     "encoding":{"x":{"field":"x","type":"quantitative","scale":{"domain":[-1.698,1.698],"nice":false,"zero":false},"axis":null},
                 "y":{"field":"y","type":"quantitative","scale":{"domain":[-1.391,1.391],"nice":false,"zero":false},"axis":null},
                 "angle":{"field":"ang","type":"quantitative","scale":null}}},
    {"data":{"name":"arrows"},"transform":[{"filter":"datum.p == 'D' && datum.s == 'NPW'"}],"mark":{"type":"rule","color":"#3b3bff","strokeWidth":5},
     "encoding":{"x":{"field":"x","type":"quantitative","scale":{"domain":[-1.698,1.698],"nice":false,"zero":false},"axis":null},"x2":{"datum":0},
                 "y":{"field":"y","type":"quantitative","scale":{"domain":[-1.391,1.391],"nice":false,"zero":false},"axis":null},"y2":{"datum":0}}},
    {"data":{"name":"arrows"},"transform":[{"filter":"datum.p == 'D' && datum.s == 'NPW'"}],"mark":{"type":"point","shape":"M-0.5,0.866L0,0L0.5,0.866","filled":false,"color":"#3b3bff","strokeWidth":5,"strokeCap":"round","strokeJoin":"round","size":1400,"opacity":1},
     "encoding":{"x":{"field":"x","type":"quantitative","scale":{"domain":[-1.698,1.698],"nice":false,"zero":false},"axis":null},
                 "y":{"field":"y","type":"quantitative","scale":{"domain":[-1.391,1.391],"nice":false,"zero":false},"axis":null},
                 "angle":{"field":"ang","type":"quantitative","scale":null}}},
    {"data":{"values":[{}]},"mark":{"type":"rule","color":"#0000ff","strokeWidth":3.5},
     "encoding":{"x":{"datum":0.982,"type":"quantitative","scale":{"domain":[-1.698,1.698],"nice":false,"zero":false},"axis":null},"x2":{"datum":1.351},
                 "y":{"datum":1.2,"type":"quantitative","scale":{"domain":[-1.391,1.391],"nice":false,"zero":false},"axis":null}}},
    {"data":{"values":[{}]},"mark":{"type":"rule","color":"#ff0000","strokeWidth":3.5,"strokeDash":[6,4]},
     "encoding":{"x":{"datum":0.982,"type":"quantitative","scale":{"domain":[-1.698,1.698],"nice":false,"zero":false},"axis":null},"x2":{"datum":1.351},
                 "y":{"datum":1.002,"type":"quantitative","scale":{"domain":[-1.391,1.391],"nice":false,"zero":false},"axis":null}}},
    {"data":{"values":[{}]},"mark":{"type":"text","align":"left","baseline":"alphabetic","font":"Liberation Serif","fontWeight":"bold","fontSize":20,"lineHeight":20.5,"text":["NPW","TPL"]},
     "encoding":{"x":{"datum":1.401,"type":"quantitative","scale":{"domain":[-1.698,1.698],"nice":false,"zero":false},"axis":null},
                 "y":{"datum":1.156,"type":"quantitative","scale":{"domain":[-1.391,1.391],"nice":false,"zero":false},"axis":null}}},
    {"data":{"values":[{}]},"mark":{"type":"text","align":"left","baseline":"alphabetic","font":"Liberation Serif","fontWeight":"bold","fontSize":30,"text":"(D)"},
     "encoding":{"x":{"datum":-2.335,"type":"quantitative","scale":{"domain":[-1.698,1.698],"nice":false,"zero":false},"axis":null},
                 "y":{"datum":1.01,"type":"quantitative","scale":{"domain":[-1.391,1.391],"nice":false,"zero":false},"axis":null}}},
    {"data":{"values":[{}]},"mark":{"type":"text","align":"center","baseline":"alphabetic","font":"Liberation Serif","fontWeight":"bold","fontSize":32,"text":"Clock time (h)"},
     "encoding":{"x":{"datum":0.06,"type":"quantitative","scale":{"domain":[-1.698,1.698],"nice":false,"zero":false},"axis":null},
                 "y":{"datum":-1.698,"type":"quantitative","scale":{"domain":[-1.391,1.391],"nice":false,"zero":false},"axis":null}}}
  ]}
 ]}
]
}
